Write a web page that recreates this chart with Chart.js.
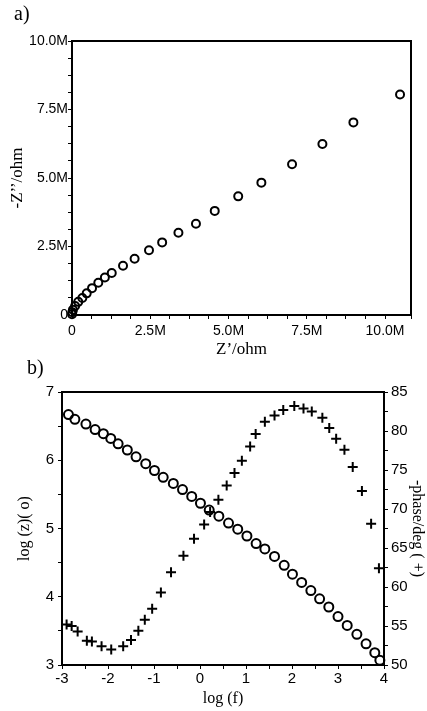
<!DOCTYPE html>
<html>
<head>
<meta charset="utf-8">
<script src="https://cdn.jsdelivr.net/npm/chart.js@4.4.1/dist/chart.umd.min.js"></script>
<style>
  body { margin: 0; background: #fff; width: 427px; height: 711px; overflow: hidden; position: relative; }
  canvas { position: absolute; left: 0; }
  #chartA { top: 0; }
  #chartB { top: 360px; }
  .panel { position: absolute; font-family: "Liberation Serif", "Times New Roman", serif; font-size: 20px; color: #000; z-index: 2; }
</style>
</head>
<body>
<canvas id="chartA" width="427" height="360"></canvas>
<canvas id="chartB" width="427" height="351"></canvas>
<div class="panel" style="left:14px; top:2px;">a)</div>
<div class="panel" style="left:27px; top:356px;">b)</div>
<script>
// a) Nyquist plot, values in Mohm
const zReal = [0.00, 0.01, 0.03, 0.10, 0.20, 0.33, 0.47, 0.64, 0.84, 1.05, 1.27, 1.63, 2.00, 2.46, 2.88, 3.40, 3.96, 4.56, 5.31, 6.05, 7.03, 8.00, 8.99, 10.48];
const zImag = [0.03, 0.10, 0.19, 0.33, 0.48, 0.62, 0.79, 0.98, 1.18, 1.37, 1.53, 1.80, 2.05, 2.36, 2.65, 3.00, 3.33, 3.80, 4.33, 4.83, 5.50, 6.24, 7.03, 8.05];

// b) Bode plot
const logF = [-2.86, -2.72, -2.48, -2.28, -2.10, -1.94, -1.78, -1.58, -1.39, -1.18, -0.99, -0.80, -0.58, -0.38, -0.18, 0.01, 0.20, 0.41, 0.62, 0.82, 1.02, 1.22, 1.41, 1.62, 1.83, 2.01, 2.21, 2.41, 2.60, 2.80, 3.00, 3.20, 3.41, 3.61, 3.80, 3.91];
const logZ = [6.67, 6.60, 6.53, 6.45, 6.39, 6.32, 6.24, 6.15, 6.05, 5.95, 5.85, 5.75, 5.66, 5.57, 5.47, 5.37, 5.27, 5.18, 5.08, 4.99, 4.89, 4.78, 4.70, 4.59, 4.46, 4.33, 4.21, 4.09, 3.97, 3.85, 3.71, 3.58, 3.45, 3.31, 3.18, 3.07];
const phaseF = [-2.90, -2.79, -2.66, -2.46, -2.35, -2.14, -1.93, -1.67, -1.50, -1.34, -1.20, -1.04, -0.85, -0.63, -0.36, -0.13, 0.09, 0.22, 0.40, 0.58, 0.75, 0.91, 1.09, 1.21, 1.41, 1.62, 1.81, 2.05, 2.25, 2.43, 2.66, 2.81, 2.96, 3.14, 3.32, 3.52, 3.72, 3.89];
const phase = [55.2, 55.0, 54.3, 53.1, 53.0, 52.4, 52.0, 52.4, 53.2, 54.4, 55.8, 57.2, 59.3, 61.9, 64.0, 66.2, 68.0, 69.6, 71.2, 73.0, 74.6, 76.2, 78.0, 79.6, 81.2, 82.0, 82.7, 83.2, 82.9, 82.5, 81.7, 80.4, 79.0, 77.6, 75.4, 72.3, 68.1, 62.4];

const tickFont = { family: '"Liberation Sans", Arial, sans-serif', size: 14 };
const tickFontB = { family: '"Liberation Sans", Arial, sans-serif', size: 15 };
const titleFont = { family: '"Liberation Serif", "Times New Roman", serif', size: 17 };
const titleFontB = { family: '"Liberation Serif", "Times New Roman", serif', size: 16 };

function toXY(xs, ys) {
  return xs.map((x, i) => ({ x: x, y: ys[i] }));
}

function mLabel(v) {
  if (Math.abs(v / 2.5 - Math.round(v / 2.5)) > 1e-6) return '';
  return v === 0 ? '0' : v.toFixed(1) + 'M';
}

// black box round the plot area
const frame = {
  id: 'frame',
  beforeDatasetsDraw(chart) {
    const a = chart.chartArea;
    const ctx = chart.ctx;
    ctx.save();
    ctx.strokeStyle = '#000';
    ctx.lineWidth = 2;
    ctx.strokeRect(a.left, a.top, a.right - a.left, a.bottom - a.top);
    ctx.restore();
  }
};

const grid = { drawOnChartArea: false, tickLength: 4, tickColor: '#000', tickWidth: 1 };

new Chart('chartA', {
  type: 'scatter',
  data: {
    datasets: [{
      data: toXY(zReal, zImag),
      pointStyle: 'circle',
      pointRadius: 4,
      pointBorderWidth: 2,
      pointBorderColor: '#000',
      pointBackgroundColor: 'transparent',
      clip: false
    }]
  },
  options: {
    responsive: false,
    animation: false,
    devicePixelRatio: 1,
    layout: { padding: { top: 41, right: 16, left: 0, bottom: 0 } },
    plugins: { legend: { display: false }, tooltip: { enabled: false } },
    scales: {
      x: {
        type: 'linear', min: 0, max: 10.83,
        ticks: { stepSize: 0.625, autoSkip: false, maxRotation: 0, padding: 4, color: '#000', font: tickFont, callback: mLabel },
        grid: grid,
        border: { display: false },
        title: { display: true, text: 'Z’/ohm', color: '#000', font: titleFont, padding: { top: 0, bottom: 0 } },
        afterFit: s => { s.height = 45; }
      },
      y: {
        type: 'linear', min: 0, max: 10,
        ticks: { stepSize: 0.625, autoSkip: false, padding: 0, color: '#000', font: tickFont, callback: mLabel },
        grid: grid,
        border: { display: false },
        title: { display: true, text: '-Z’’/ohm', color: '#000', font: titleFont, padding: { top: 7, bottom: 0 } },
        afterFit: s => { s.width = 72; }
      }
    }
  },
  plugins: [frame]
});

new Chart('chartB', {
  type: 'scatter',
  data: {
    datasets: [{
      data: toXY(logF, logZ),
      yAxisID: 'y',
      pointStyle: 'circle',
      pointRadius: 4.5,
      pointBorderWidth: 2,
      pointBorderColor: '#000',
      pointBackgroundColor: 'transparent',
      clip: false
    }, {
      data: toXY(phaseF, phase),
      yAxisID: 'y2',
      pointStyle: 'cross',
      pointRadius: 5,
      pointBorderWidth: 2,
      pointBorderColor: '#000',
      clip: false
    }]
  },
  options: {
    responsive: false,
    animation: false,
    devicePixelRatio: 1,
    layout: { padding: { top: 32, right: 0, left: 0, bottom: 0 } },
    plugins: { legend: { display: false }, tooltip: { enabled: false } },
    scales: {
      x: {
        type: 'linear', min: -3, max: 4,
        ticks: { stepSize: 0.5, autoSkip: false, maxRotation: 0, padding: 1, color: '#000', font: tickFontB,
          callback: v => Number.isInteger(v) ? String(v) : '' },
        grid: grid,
        border: { display: false },
        title: { display: true, text: 'log (f)', color: '#000', font: titleFontB, padding: { top: 0, bottom: 3 } },
        afterFit: s => { s.height = 46; }
      },
      y: {
        type: 'linear', position: 'left', min: 3, max: 7,
        ticks: { stepSize: 0.5, autoSkip: false, padding: 4, color: '#000', font: tickFontB,
          callback: v => Number.isInteger(v) ? String(v) : '' },
        grid: grid,
        border: { display: false },
        title: { display: true, text: 'log (z)( o)', color: '#000', font: titleFontB, padding: { top: 15, bottom: 0 } },
        afterFit: s => { s.width = 62; }
      },
      y2: {
        type: 'linear', position: 'right', min: 50, max: 85,
        ticks: { stepSize: 2.5, autoSkip: false, padding: 3, color: '#000', font: tickFontB,
          callback: v => v % 5 === 0 ? String(v) : '' },
        grid: grid,
        border: { display: false },
        title: { display: true, text: '-phase/deg ( +)', color: '#000', font: titleFontB, padding: { top: 0, bottom: 0 } },
        afterFit: s => { s.width = 43; }
      }
    }
  },
  plugins: [frame]
});
</script>
</body>
</html>
